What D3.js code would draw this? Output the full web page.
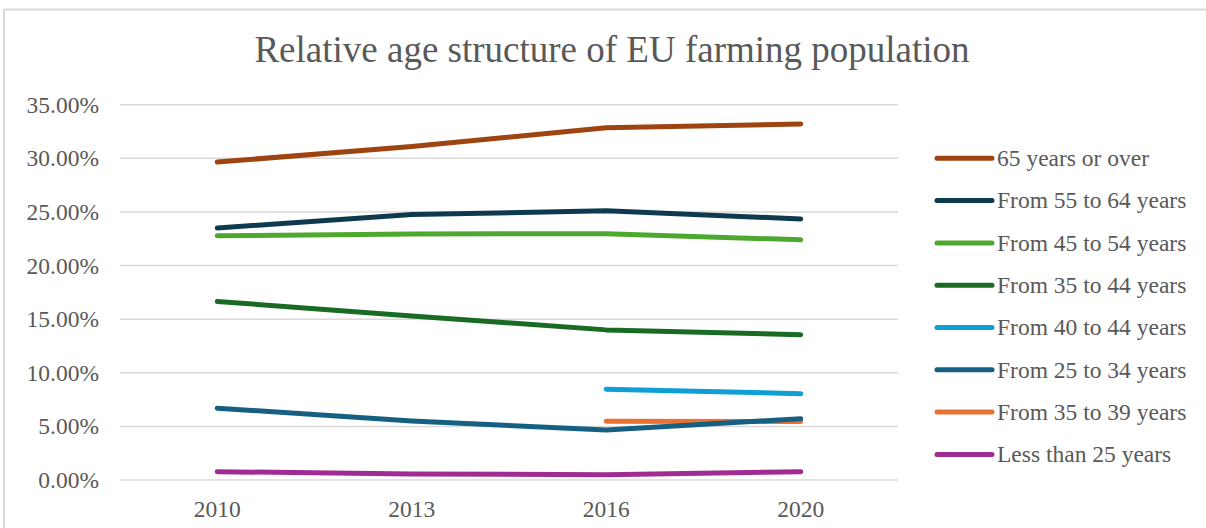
<!DOCTYPE html>
<html>
<head>
<meta charset="utf-8">
<script src="https://cdn.jsdelivr.net/npm/d3@7"></script>
<style>
    body { margin: 0; background: #fff; }
    .chart { width: 1206px; height: 528px; }
</style>
</head>
<body>
<div class="chart"></div>
<script>
// data (share of farm holders, %)
let years = ["2010", "2013", "2016", "2020"]
let seriesNames = ["65 years or over", "From 55 to 64 years", "From 45 to 54 years", "From 35 to 44 years",
    "From 40 to 44 years", "From 25 to 34 years", "From 35 to 39 years", "Less than 25 years"]
let over65 = [29.65, 31.1, 32.85, 33.2]
let from55to64 = [23.5, 24.75, 25.1, 24.35]
let from45to54 = [22.77, 22.95, 22.96, 22.4]
let from35to44 = [16.65, 15.3, 14.0, 13.55]
let from40to44 = [null, null, 8.46, 8.05]
let from25to34 = [6.7, 5.5, 4.67, 5.72]
let from35to39 = [null, null, 5.48, 5.45]
let under25 = [0.78, 0.55, 0.5, 0.78]
let yTicks = [0, 5, 10, 15, 20, 25, 30, 35]
let colors = ["#9E4410", "#0E3A4F", "#4EA72E", "#196B24", "#0F9ED5", "#156082", "#E97132", "#A02B93"]

let allValues = [over65, from55to64, from45to54, from35to44, from40to44, from25to34, from35to39, under25]
let series = seriesNames.map((name, i) => ({ name: name, color: colors[i], values: allValues[i] }))

let width = 1206, height = 528
let textColor = "#595959"
let font = "'Liberation Serif', 'Times New Roman', serif"

let svg = d3.select(".chart")
    .append("svg")
    .attr("width", width)
    .attr("height", height)
    .style("font-family", font)

//外框（只看得到上边和左边）
svg.append("line").attr("x1", 4).attr("x2", width).attr("y1", 9.5).attr("y2", 9.5)
    .attr("stroke", "#d9d9d9").attr("stroke-width", 2)
svg.append("line").attr("x1", 4).attr("x2", 4).attr("y1", 9).attr("y2", height)
    .attr("stroke", "#d9d9d9").attr("stroke-width", 2)

//比例尺
let x = d3.scaleBand().domain(years).range([120, 898])
let y = d3.scaleLinear().domain([0, 35]).range([480, 104.7])

//网格线
svg.append("g")
    .selectAll("line")
    .data(yTicks)
    .enter()
    .append("line")
    .attr("x1", 120)
    .attr("x2", 898)
    .attr("y1", (d) => y(d))
    .attr("y2", (d) => y(d))
    .attr("stroke", "#d9d9d9")
    .attr("stroke-width", 1.5)

//y轴
let yAxis = svg.append("g")
    .attr("transform", "translate(120,0)")
    .call(d3.axisLeft(y).tickValues(yTicks).tickSize(0).tickPadding(21).tickFormat((d) => d3.format(".2f")(d) + "%"))
yAxis.select(".domain").remove()
yAxis.selectAll("text")
    .attr("fill", textColor)
    .attr("font-size", 23.5)
    .attr("font-family", font)

//x轴
let xAxis = svg.append("g")
    .attr("transform", "translate(0,480)")
    .call(d3.axisBottom(x).tickSize(0).tickPadding(20))
xAxis.select(".domain").remove()
xAxis.selectAll("text")
    .attr("fill", textColor)
    .attr("font-size", 23.5)
    .attr("font-family", font)

//折线
let line = d3.line()
    .defined((d) => d != null)
    .x((d, i) => x(years[i]) + x.bandwidth() / 2)
    .y((d) => y(d))

svg.append("g")
    .selectAll("path")
    .data(series.slice().reverse())
    .enter()
    .append("path")
    .attr("fill", "none")
    .attr("stroke", (d) => d.color)
    .attr("stroke-width", 5)
    .attr("stroke-linecap", "round")
    .attr("stroke-linejoin", "round")
    .attr("d", (d) => line(d.values))

//标题
svg.append("text")
    .attr("x", 612)
    .attr("y", 62)
    .attr("text-anchor", "middle")
    .attr("font-size", 37)
    .attr("fill", textColor)
    .text("Relative age structure of EU farming population")

//图例
let legend = svg.append("g")
    .selectAll("g")
    .data(series)
    .enter()
    .append("g")
    .attr("transform", (d, i) => `translate(937,${158.3 + i * 42.3})`)
legend.append("line")
    .attr("x1", 0)
    .attr("x2", 55)
    .attr("stroke", (d) => d.color)
    .attr("stroke-width", 5)
    .attr("stroke-linecap", "round")
legend.append("text")
    .attr("x", 60)
    .attr("dy", "0.33em")
    .attr("font-size", 23.5)
    .attr("fill", textColor)
    .text((d) => d.name)
</script>
</body>
</html>
